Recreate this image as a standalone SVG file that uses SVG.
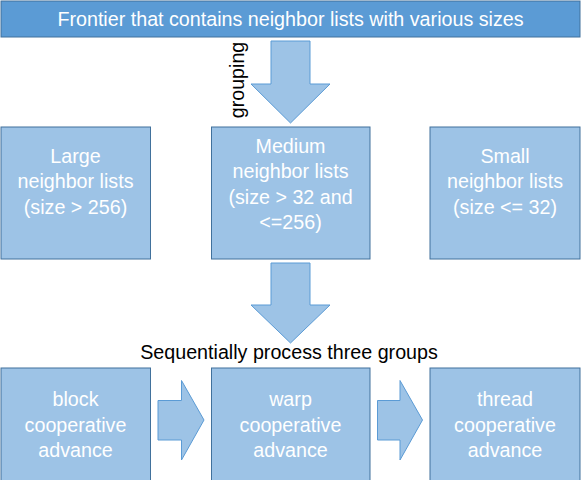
<svg xmlns="http://www.w3.org/2000/svg" width="581" height="480" viewBox="0 0 581 480">
<style>
.bar{fill:#5B9BD5;stroke:#41719C;stroke-width:1}
.box{fill:#9DC3E6;stroke:#41719C;stroke-width:1}
.arrow{fill:#9DC3E6;stroke:#5B9BD5;stroke-width:1}
text{font-family:"Liberation Sans",Arial,sans-serif;font-size:19.7px;text-anchor:middle}
.w{fill:#FFFFFF}
.k{fill:#000000}
</style>
<rect width="581" height="480" fill="#FFFFFF"/>
<g id="frontier">
<rect class="bar" x="1" y="1" width="579" height="36"/>
<text class="w" x="290.5" y="26">Frontier that contains neighbor lists with various sizes</text>
</g>
<g id="large">
<rect class="box" x="1" y="127" width="149.5" height="132"/>
<text class="w" x="75.5" y="162.7">Large</text>
<text class="w" x="75.5" y="188.3">neighbor lists</text>
<text class="w" x="75.5" y="213.5">(size &gt; 256)</text>
</g>
<g id="medium">
<rect class="box" x="211.5" y="127" width="158.5" height="132"/>
<text class="w" x="290.5" y="152.5">Medium</text>
<text class="w" x="290.5" y="178">neighbor lists</text>
<text class="w" x="290.5" y="203.5">(size &gt; 32 and</text>
<text class="w" x="290.5" y="229">&lt;=256)</text>
</g>
<g id="small">
<rect class="box" x="430" y="127" width="150" height="132"/>
<text class="w" x="505" y="162.7">Small</text>
<text class="w" x="505" y="188.3">neighbor lists</text>
<text class="w" x="505" y="213.5">(size &lt;= 32)</text>
</g>
<g id="block">
<rect class="box" x="1" y="368" width="149.5" height="120"/>
<text class="w" x="75.5" y="406">block</text>
<text class="w" x="75.5" y="431.5">cooperative</text>
<text class="w" x="75.5" y="457">advance</text>
</g>
<g id="warp">
<rect class="box" x="211.5" y="368" width="158.5" height="120"/>
<text class="w" x="290.5" y="406">warp</text>
<text class="w" x="290.5" y="431.5">cooperative</text>
<text class="w" x="290.5" y="457">advance</text>
</g>
<g id="thread">
<rect class="box" x="430" y="368" width="150" height="120"/>
<text class="w" x="505" y="406">thread</text>
<text class="w" x="505" y="431.5">cooperative</text>
<text class="w" x="505" y="457">advance</text>
</g>
<g id="connectors">
<polygon class="arrow" points="271,41 310,41 310,84 330,84 290.5,123 251,84 271,84"/>
<text class="k" transform="translate(244,80) rotate(-90)">grouping</text>
<polygon class="arrow" points="271,263 310,263 310,305 330,305 290.5,343 251,305 271,305"/>
<text class="k" x="289" y="359">Sequentially process three groups</text>
<polygon class="arrow" points="158,400.5 181.5,400.5 181.5,380.5 204,420 181.5,460 181.5,440 158,440"/>
<polygon class="arrow" points="377.5,400.5 400,400.5 400,380.5 422.5,420 400,460 400,440 377.5,440"/>
</g>
</svg>
